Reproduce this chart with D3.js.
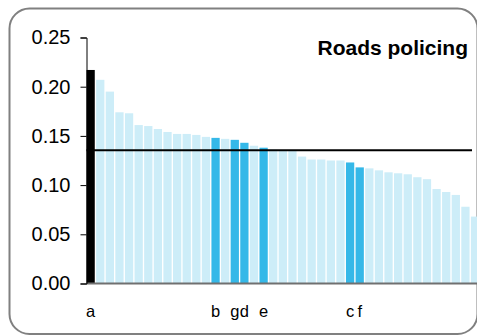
<!DOCTYPE html>
<html>
<head>
<meta charset="utf-8">
<script src="https://cdn.jsdelivr.net/npm/d3@7"></script>
<style>
  html, body { margin: 0; padding: 0; background: #fff; }
  svg { display: block; font-family: "Liberation Sans", Arial, sans-serif; }
</style>
</head>
<body>
<svg id="chart" width="477" height="336"></svg>
<script>
const title = "Roads policing";
const values = [0.217, 0.207, 0.195, 0.174, 0.173, 0.161, 0.160, 0.157, 0.154, 0.152,
                0.152, 0.151, 0.149, 0.148, 0.147, 0.146, 0.143, 0.140, 0.138, 0.136,
                0.135, 0.135, 0.129, 0.126, 0.126, 0.125, 0.125, 0.123, 0.118, 0.117,
                0.115, 0.113, 0.112, 0.111, 0.108, 0.106, 0.096, 0.093, 0.090, 0.078, 0.068];
const labels = ["a","","","","","","","","","","","","","b","","g","d","","e","",
                "","","","","","","","c","f","","","","","","","","","","","",""];
// 0 = normal, 1 = highlighted, 2 = subject
const kinds  = [2,0,0,0,0,0,0,0,0,0,0,0,0,1,0,1,1,0,1,0,
                0,0,0,0,0,0,0,1,1,0,0,0,0,0,0,0,0,0,0,0,0];
const average = 0.1355;
const yTicks = [0, 0.05, 0.10, 0.15, 0.20, 0.25];

const colors = ["#cdedf8", "#35b8e8", "#000000"];
const svg = d3.select("#chart");

// frame
svg.append("rect")
  .attr("x", 9.5).attr("y", 8.5).attr("width", 468).attr("height", 325.5)
  .attr("rx", 20).attr("ry", 20)
  .attr("fill", "#fff").attr("stroke", "#808080").attr("stroke-width", 2);

const x0 = 86.5, step = 9.61;
const idx = d3.range(values.length);
const x = d3.scaleBand().domain(idx)
  .range([x0, x0 + step * values.length - step * 0.14])
  .paddingInner(0.14).paddingOuter(0);
const y = d3.scaleLinear().domain([0, 0.25]).range([283.5, 37.5]);

// bars
svg.append("g").selectAll("rect").data(idx).join("rect")
  .attr("x", i => x(i))
  .attr("width", x.bandwidth())
  .attr("y", i => y(values[i]))
  .attr("height", i => y(0) - y(values[i]))
  .attr("fill", i => colors[kinds[i]]);

// average line
svg.append("line")
  .attr("x1", x0).attr("x2", 472)
  .attr("y1", y(average)).attr("y2", y(average))
  .attr("stroke", "#000").attr("stroke-width", 2);

// x baseline
svg.append("line")
  .attr("x1", x0).attr("x2", 477)
  .attr("y1", y(0)).attr("y2", y(0))
  .attr("stroke", "#707070").attr("stroke-width", 2);

// y axis
const yAxis = d3.axisLeft(y).tickValues(yTicks).tickFormat(d3.format(".2f"))
  .tickSize(6).tickPadding(10);
const gy = svg.append("g").attr("transform", `translate(${x0},0)`).call(yAxis);
gy.select(".domain").attr("stroke", "#000").attr("stroke-width", 1);
gy.selectAll(".tick line").attr("stroke", "#000");
gy.selectAll(".tick text").attr("font-size", 20).attr("fill", "#000")
  .attr("font-family", "Liberation Sans, Arial, sans-serif");

// category labels
svg.append("g").selectAll("text").data(idx.filter(i => labels[i] !== "")).join("text")
  .attr("x", i => x(i) + x.bandwidth() / 2)
  .attr("y", 317)
  .attr("text-anchor", "middle")
  .attr("font-size", 16.5)
  .attr("fill", "#000")
  .text(i => labels[i]);

// title
svg.append("text")
  .attr("x", 468).attr("y", 55)
  .attr("text-anchor", "end")
  .attr("font-size", 21)
  .attr("font-weight", "bold")
  .attr("fill", "#000")
  .text(title);
</script>
</body>
</html>
